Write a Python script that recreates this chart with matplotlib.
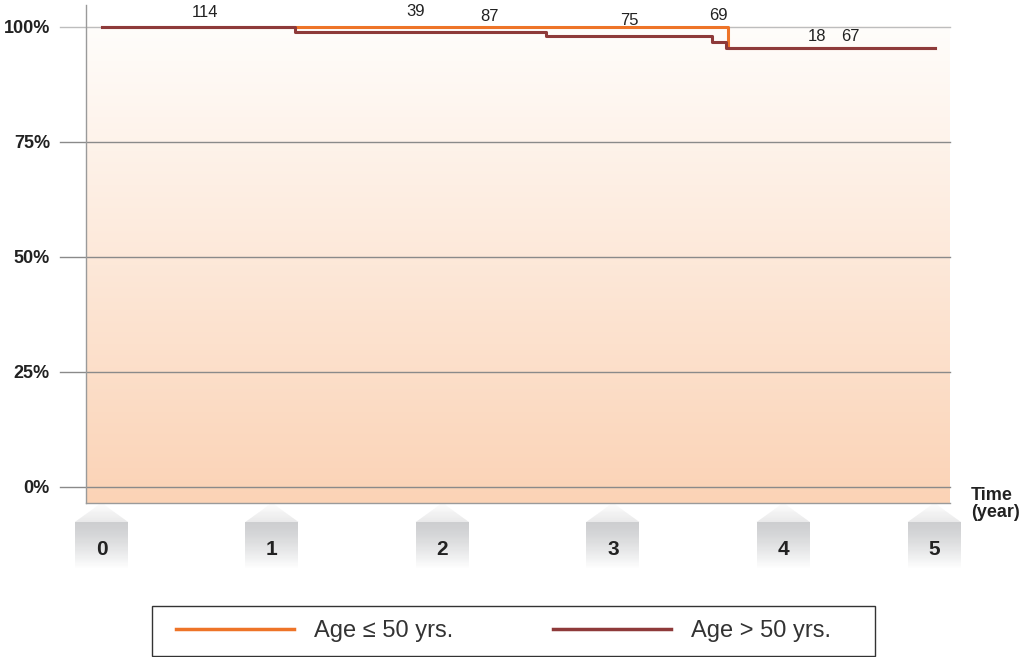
import numpy as np
import matplotlib.pyplot as plt
from matplotlib.transforms import blended_transform_factory
from matplotlib.patches import Rectangle, Polygon
from matplotlib.colors import LinearSegmentedColormap, to_rgb

plt.rcParams['font.family'] = ['Liberation Sans', 'DejaVu Sans']

# survival curves (years, percent)
t_young = [0, 3.674, 4.89]
s_young = [100, 95.3, 95.3]
t_old = [0, 1.135, 2.606, 3.582, 3.662, 4.89]
s_old = [100, 98.8, 98.0, 96.6, 95.3, 95.3]

# numbers at risk printed over the curves
risk_labels = ['114', '39', '87', '75', '69', '18', '67']
risk_x = [0.605, 1.845, 2.279, 3.095, 3.621, 4.197, 4.396]
risk_y = [103.0, 103.3, 102.3, 101.4, 102.5, 97.8, 97.8]

year_ticks = [0, 1, 2, 3, 4, 4.886]
year_labels = ['0', '1', '2', '3', '4', '5']
pct_ticks = [0, 25, 50, 75, 100]
pct_labels = ['0%', '25%', '50%', '75%', '100%']

c_young = '#ee7428'
c_old = '#8e3a3a'

fig = plt.figure(figsize=(10.24, 6.57), dpi=100)
ax = fig.add_axes([86 / 1024, (657 - 503) / 657, 864 / 1024, 498 / 657])
xmin, xmax = -0.091, 4.978
ymin, ymax = -3.48, 104.7
ax.set_xlim(xmin, xmax)
ax.set_ylim(ymin, ymax)

# peach gradient background
cmap = LinearSegmentedColormap.from_list('bg', ['#fbd3b6', '#fffdfb'])
grad = np.linspace(0, 1, 256).reshape(-1, 1)
ax.imshow(grad, cmap=cmap, aspect='auto', origin='lower',
          extent=[xmin, xmax, ymin, 100], zorder=0)

# gridlines, extended to the left of the axis
for p in pct_ticks:
    col = '#bdbdbd' if p == 100 else '#8a8a8a'
    ax.plot([-0.243, xmax], [p, p], color=col, lw=1.0, clip_on=False, zorder=1)

ax.step(t_young, s_young, where='post', color=c_young, lw=2.2, zorder=3,
        label='Age \u2264 50 yrs.')
ax.step(t_old, s_old, where='post', color=c_old, lw=2.2, zorder=4,
        label='Age > 50 yrs.')

for lab, x, y in zip(risk_labels, risk_x, risk_y):
    ax.text(x, y, lab, ha='center', va='center', fontsize=12, color='#222222')

for s in ['top', 'right']:
    ax.spines[s].set_visible(False)
for s in ['left', 'bottom']:
    ax.spines[s].set_color('#9a9a9a')
    ax.spines[s].set_linewidth(1.0)

ax.set_yticks(pct_ticks)
ax.set_yticklabels(pct_labels, fontsize=13, fontweight='bold', color='#222222')
ax.tick_params(axis='y', length=0, pad=26)
ax.set_xticks([])

# gray "arrow" tick markers under the axis
trans = blended_transform_factory(ax.transData, ax.transAxes)
hw = 0.1555
tri_top, tri_base, box_bot = 0.0, -0.0382, -0.1305
top_c = np.array(to_rgb('#cdced0'))
white = np.array([1.0, 1.0, 1.0])
tri_c = np.array(to_rgb('#e2e2e3'))
nstrip = 40
for xt, lab in zip(year_ticks, year_labels):
    for i in range(nstrip):
        f0 = i / nstrip
        f1 = (i + 1) / nstrip
        y0 = tri_base + (box_bot - tri_base) * f0
        y1 = tri_base + (box_bot - tri_base) * f1
        col = top_c + (white - top_c) * f0 ** 1.3
        ax.add_patch(Rectangle((xt - hw, y1), 2 * hw, y0 - y1, transform=trans,
                               facecolor=col, edgecolor='none', clip_on=False))
    for i in range(nstrip):
        f0 = i / nstrip
        f1 = (i + 1) / nstrip
        ya = tri_top + (tri_base - tri_top) * f0
        yb = tri_top + (tri_base - tri_top) * f1
        col = white + (tri_c - white) * f1
        ax.add_patch(Polygon([(xt - hw * f0, ya), (xt + hw * f0, ya),
                              (xt + hw * f1, yb), (xt - hw * f1, yb)],
                             transform=trans, facecolor=col, edgecolor='none',
                             clip_on=False))
    ax.text(xt, -0.0924, lab, transform=trans, ha='center', va='center',
            fontsize=15, fontweight='bold', color='#222222')

ax.text(1.0245, -0.002, 'Time\n(year)', transform=ax.transAxes, ha='left',
        va='center', fontsize=13, fontweight='bold', color='#222222',
        linespacing=1.05)

# legend with a hand-placed frame
fig.patches.append(Rectangle((152 / 1024, 1 / 657), 723 / 1024, 50 / 657,
                             transform=fig.transFigure, fill=False,
                             edgecolor='#333333', linewidth=1.0))
leg = fig.legend(loc='center left', bbox_to_anchor=(176 / 1024, 26 / 657), ncol=2,
                 fontsize=17, frameon=False, handlelength=5.0,
                 handletextpad=0.85, columnspacing=4.2, borderpad=0,
                 borderaxespad=0)
for t in leg.get_texts():
    t.set_color('#333333')
for h in leg.legend_handles:
    h.set_linewidth(2.5)

fig.savefig('out.png', dpi=100)
